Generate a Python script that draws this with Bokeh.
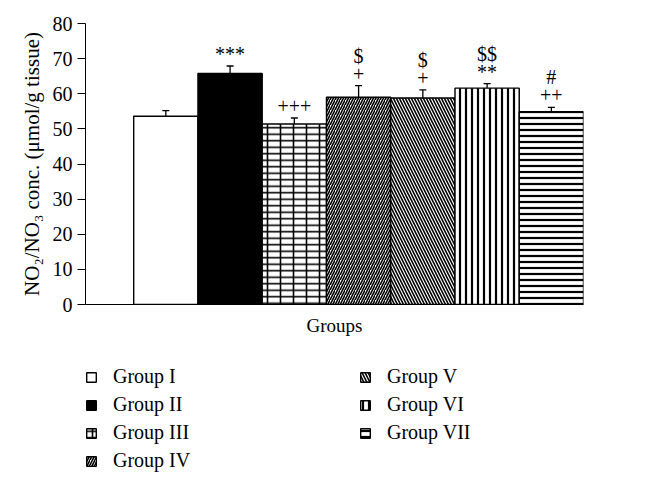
from bokeh.plotting import figure
from bokeh.layouts import column
from bokeh.models import Range1d, ColumnDataSource, Whisker, TeeHead, Legend, LegendItem, FixedTicker
from bokeh.embed import file_html
from bokeh.resources import INLINE

# ---- data ----
groups = ["Group I", "Group II", "Group III", "Group IV", "Group V", "Group VI", "Group VII"]
means = [53.6, 65.8, 51.4, 59.0, 58.8, 61.6, 54.9]
sems = [1.6, 2.1, 1.7, 3.3, 2.3, 1.3, 1.2]
marks_low = ["", "***", "+++", "+", "+", "**", "++"]
marks_high = ["", "", "", "$", "$", "$$", "#"]
y_ticks = [0, 10, 20, 30, 40, 50, 60, 70, 80]

# ---- styles ----
FONT = "Liberation Serif"
fills = ["white", "black", "white", "white", "white", "white", "white"]
hatches = ["blank", "blank", "horizontal_line", "right_diagonal_line", "left_diagonal_line",
           "vertical_line", "horizontal_line"]
hscales = [6, 6, 6.5, 5, 6, 6, 6]
hweights = [1, 1, 1.6, 1.6, 1.6, 2.2, 2.2]
over_hatches = ["blank", "blank", "vertical_line", "blank", "blank", "blank", "blank"]

xs = [i + 0.5 for i in range(len(groups))]
uppers = [m + s for m, s in zip(means, sems)]

src = ColumnDataSource(dict(x=xs, top=means, fill=fills, hatch=hatches, hs=hscales, hw=hweights,
                            over=over_hatches, upper=uppers, lo=marks_low, hi=marks_high))


def add_bars(fig):
    r1 = fig.vbar(x="x", top="top", width=1, source=src, fill_color="fill", line_color="black",
                  line_width=1.4, hatch_pattern="hatch", hatch_color="black",
                  hatch_scale="hs", hatch_weight="hw")
    r2 = fig.vbar(x="x", top="top", width=1, source=src, fill_alpha=0, line_alpha=0,
                  hatch_pattern="over", hatch_color="black", hatch_scale=13, hatch_weight=1.6)
    return r1, r2


p = figure(width=638, height=340, x_range=Range1d(-0.75, 7), y_range=Range1d(0, 80),
           output_backend="svg", toolbar_location=None,
           min_border_left=85, min_border_right=55, min_border_top=23, min_border_bottom=36)
p.outline_line_color = None
p.grid.visible = False
p.background_fill_color = "white"

add_bars(p)

whisk = Whisker(base="x", lower="top", upper="upper", source=src, line_color="black",
                line_width=1.3, upper_head=TeeHead(size=7, line_width=1.3, line_color="black"),
                lower_head=None)
p.add_layout(whisk)

p.text(x="x", y="upper", text="lo", source=src, y_offset=-12, text_align="center",
       text_baseline="middle", text_font=FONT, text_font_size="20px", text_color="black")
p.text(x="x", y="upper", text="hi", source=src, y_offset=-30, text_align="center",
       text_baseline="middle", text_font=FONT, text_font_size="20px", text_color="black")

# axes
p.yaxis.ticker = FixedTicker(ticks=y_ticks)
p.yaxis.minor_tick_line_color = None
p.yaxis.major_tick_in = 0
p.yaxis.major_tick_out = 8
p.yaxis.major_label_standoff = 5
p.yaxis.major_label_text_font = FONT
p.yaxis.major_label_text_font_size = "20px"
p.yaxis.major_label_text_color = "black"
p.yaxis.axis_line_color = "black"
p.yaxis.major_tick_line_color = "black"
p.yaxis.axis_label = "NO\u2082/NO\u2083 conc. (\u03bcmol/g tissue)"
p.yaxis.axis_label_text_font = FONT
p.yaxis.axis_label_text_font_size = "21px"
p.yaxis.axis_label_text_font_style = "normal"
p.yaxis.axis_label_text_color = "black"
p.yaxis.axis_label_standoff = 6

p.xaxis.ticker = FixedTicker(ticks=[])
p.xaxis.major_tick_line_color = None
p.xaxis.major_tick_out = 0
p.xaxis.major_label_standoff = 0
p.xaxis.minor_tick_line_color = None
p.xaxis.major_label_text_font_size = "0px"
p.xaxis.axis_line_color = "black"
p.xaxis.axis_label = "Groups"
p.xaxis.axis_label_text_font = FONT
p.xaxis.axis_label_text_font_size = "19px"
p.xaxis.axis_label_text_font_style = "normal"
p.xaxis.axis_label_text_color = "black"
p.xaxis.axis_label_standoff = 10

# legend panel (separate figure below the chart; its bar renderers are hidden, used only as legend keys)
lf = figure(width=638, height=140, x_range=Range1d(-0.75, 7), y_range=Range1d(0, 80),
            output_backend="svg", toolbar_location=None, x_axis_type=None, y_axis_type=None,
            min_border_left=85, min_border_right=0, min_border_top=24, min_border_bottom=0)
lf.outline_line_color = None
lf.grid.visible = False
l1, l2 = add_bars(lf)
l1.visible = False
l2.visible = False

items = [LegendItem(label=g, renderers=[l1, l2], index=i) for i, g in enumerate(groups)]
legend = Legend(items=items, orientation="vertical", nrows=4, location="top_left",
                border_line_color=None, background_fill_alpha=0,
                inactive_fill_alpha=0, click_policy="none",
                label_text_font=FONT, label_text_font_size="20px", label_text_color="black",
                glyph_width=12, glyph_height=12, label_standoff=16, label_width=243,
                label_height=25, spacing=3, padding=0, margin=0)
lf.add_layout(legend, "center")

open("out.html", "w").write(file_html(column(p, lf, spacing=0), INLINE))
